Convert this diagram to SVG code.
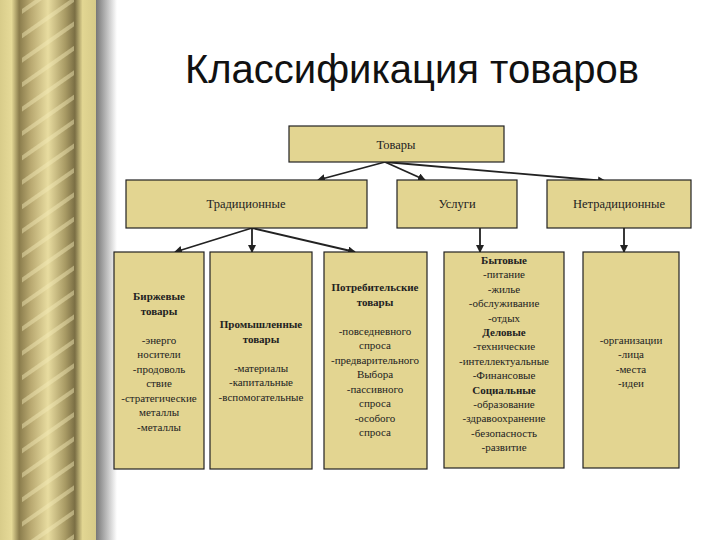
<svg xmlns="http://www.w3.org/2000/svg" width="720" height="540" viewBox="0 0 720 540">
<defs>
<linearGradient id="col" x1="0" x2="1" y1="0" y2="0">
<stop offset="0" stop-color="#d8cc8a"/>
<stop offset="0.12" stop-color="#e6da98"/>
<stop offset="0.2" stop-color="#8a7c4c"/>
<stop offset="0.32" stop-color="#b8a870"/>
<stop offset="0.5" stop-color="#e8dca0"/>
<stop offset="0.68" stop-color="#a89a64"/>
<stop offset="0.78" stop-color="#7a6e44"/>
<stop offset="0.86" stop-color="#e2d692"/>
<stop offset="1" stop-color="#d6ca88"/>
</linearGradient>
<linearGradient id="sh" x1="0" x2="1" y1="0" y2="0">
<stop offset="0" stop-color="#707070"/>
<stop offset="1" stop-color="#ffffff"/>
</linearGradient>
<pattern id="stripes" width="20" height="20" patternUnits="userSpaceOnUse" patternTransform="rotate(-35)">
<rect x="0" y="0" width="20" height="4" fill="#f4ecb8" opacity="0.45"/>
</pattern>
<marker id="ah" markerWidth="8" markerHeight="8" refX="7" refY="4" orient="auto" markerUnits="userSpaceOnUse">
<path d="M0,0 L8,4 L0,8 Z" fill="#222"/>
</marker>
<style>
.box{fill:#e3d591;stroke:#222;stroke-width:1.2}
.t{font-family:"Liberation Serif",serif;font-size:11px;fill:#222;text-anchor:middle}
.b{font-weight:bold}
.h{font-family:"Liberation Serif",serif;font-size:12.5px;fill:#222;text-anchor:middle}
.c{stroke:#222;stroke-width:1.8;fill:none;marker-end:url(#ah)}
</style>
</defs>
<rect width="720" height="540" fill="#fff"/>
<rect x="95" y="0" width="22" height="540" fill="url(#sh)"/>
<rect x="0" y="0" width="96" height="540" fill="url(#col)"/>
<rect x="22" y="0" width="52" height="540" fill="url(#stripes)"/>
<text x="412" y="83" font-family="Liberation Sans, sans-serif" font-size="40" fill="#111" text-anchor="middle">Классификация товаров</text>

<g id="connectors">
<line class="c" x1="385" y1="162" x2="318" y2="180"/>
<line class="c" x1="385" y1="162" x2="425" y2="180"/>
<line class="c" x1="385" y1="162" x2="605" y2="181"/>
<line class="c" x1="252" y1="228" x2="175" y2="252"/>
<line class="c" x1="252" y1="228" x2="252" y2="252"/>
<line class="c" x1="252" y1="228" x2="355" y2="252"/>
<line class="c" x1="480" y1="228" x2="480" y2="252"/>
<line class="c" x1="624" y1="228" x2="624" y2="252"/>
</g>

<g id="tovary"><rect class="box" x="289" y="126" width="215" height="36"/><text class="h" x="396" y="149">Товары</text></g>
<g id="trad"><rect class="box" x="126" y="180" width="241" height="48"/><text class="h" x="246" y="208">Традиционные</text></g>
<g id="uslugi"><rect class="box" x="397" y="180" width="120" height="48"/><text class="h" x="457" y="208">Услуги</text></g>
<g id="netrad"><rect class="box" x="547" y="180" width="144" height="48"/><text class="h" x="619" y="208">Нетрадиционные</text></g>

<g id="birzh"><rect class="box" x="114" y="252" width="90" height="217"/>
<text class="t" x="159" y="300"><tspan class="b" x="159">Биржевые</tspan><tspan class="b" x="159" dy="14.5">товары</tspan><tspan x="159" dy="29">-энерго</tspan><tspan x="159" dy="14.5">носители</tspan><tspan x="159" dy="14.5">-продоволь</tspan><tspan x="159" dy="14.5">ствие</tspan><tspan x="159" dy="14.5">-стратегические</tspan><tspan x="159" dy="14.5">металлы</tspan><tspan x="159" dy="14.5">-металлы</tspan></text></g>

<g id="prom"><rect class="box" x="210" y="252" width="102" height="217"/>
<text class="t" x="261" y="328"><tspan class="b" x="261">Промышленные</tspan><tspan class="b" x="261" dy="14.5">товары</tspan><tspan x="261" dy="29">-материалы</tspan><tspan x="261" dy="14.5">-капитальные</tspan><tspan x="261" dy="14.5">-вспомогательные</tspan></text></g>

<g id="potreb"><rect class="box" x="324" y="252" width="103" height="217"/>
<text class="t" x="375" y="291"><tspan class="b" x="375">Потребительские</tspan><tspan class="b" x="375" dy="14.5">товары</tspan><tspan x="375" dy="29">-повседневного</tspan><tspan x="375" dy="14.5">спроса</tspan><tspan x="375" dy="14.5">-предварительного</tspan><tspan x="375" dy="14.5">Выбора</tspan><tspan x="375" dy="14.5">-пассивного</tspan><tspan x="375" dy="14.5">спроса</tspan><tspan x="375" dy="14.5">-особого</tspan><tspan x="375" dy="14.5">спроса</tspan></text></g>

<g id="byt"><rect class="box" x="444" y="252" width="120" height="216"/>
<text class="t" x="504" y="264"><tspan class="b" x="504">Бытовые</tspan><tspan x="504" dy="14.4">-питание</tspan><tspan x="504" dy="14.4">-жилье</tspan><tspan x="504" dy="14.4">-обслуживание</tspan><tspan x="504" dy="14.4">-отдых</tspan><tspan class="b" x="504" dy="14.4">Деловые</tspan><tspan x="504" dy="14.4">-технические</tspan><tspan x="504" dy="14.4">-интеллектуальные</tspan><tspan x="504" dy="14.4">-Финансовые</tspan><tspan class="b" x="504" dy="14.4">Социальные</tspan><tspan x="504" dy="14.4">-образование</tspan><tspan x="504" dy="14.4">-здравоохранение</tspan><tspan x="504" dy="14.4">-безопасность</tspan><tspan x="504" dy="14.4">-развитие</tspan></text></g>

<g id="org"><rect class="box" x="583" y="252" width="96" height="216"/>
<text class="t" x="631" y="344"><tspan x="631">-организации</tspan><tspan x="631" dy="14.4">-лица</tspan><tspan x="631" dy="14.4">-места</tspan><tspan x="631" dy="14.4">-идеи</tspan></text></g>
</svg>
